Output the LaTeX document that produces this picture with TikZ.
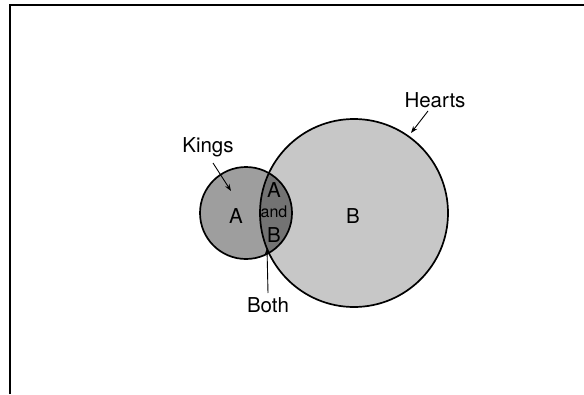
\documentclass[tikz,border=0pt]{standalone}
\usepackage{fontspec}
\setmainfont{TeX Gyre Heros}
\usetikzlibrary{arrows.meta}
\begin{document}
\begin{tikzpicture}[x=1pt,y=-1pt,
  ring/.style={draw=black, line width=1.7pt},
  afill/.style={fill=black!38},
  bfill/.style={fill=black!22},
  abfill/.style={fill=black!55},
  lbl/.style={font=\fontsize{20.5}{21}\selectfont, inner sep=0pt},
  small/.style={font=\fontsize{16}{17}\selectfont, inner sep=0pt},
  arr/.style={draw=black, line width=0.9pt, -{Stealth[length=7pt,width=5pt]}},
  frame/.style={draw=black, line width=1.6pt}]
\useasboundingbox (0,0) rectangle (584,394);
% frame
\coordinate (f1) at (10,394);
\coordinate (f2) at (10,5);
\coordinate (f3) at (584,5);
\draw[frame] (f1) -- (f2) -- (f3);
% circle fills
\coordinate (ca) at (246,213);
\coordinate (cb) at (354,213);
\fill[afill] (ca) circle[radius=46];
\fill[bfill] (cb) circle[radius=94];
\begin{scope}
  \clip (ca) circle[radius=46];
  \fill[abfill] (cb) circle[radius=94];
\end{scope}
% circles
\node[ring, circle, minimum size=92pt, inner sep=0pt] (kings) at (ca) {};
\node[ring, circle, minimum size=188pt, inner sep=0pt] (hearts) at (cb) {};
% region labels
\node[lbl] (alab) at (236,216) {A};
\node[lbl] (blab) at (353,216) {B};
\node[lbl] (aba) at (274,190) {A};
\node[small] (aband) at (274,212) {and};
\node[lbl] (abb) at (274,235) {B};
% outside labels
\node[lbl] (kingslbl) at (208,147) {Kings};
\node[lbl] (heartslbl) at (435,100) {Hearts};
\node[lbl] (bothlbl) at (268,305) {Both};
% arrows
\coordinate (kingsfrom) at (213,163);
\coordinate (kingstip) at (231,191);
\coordinate (heartsfrom) at (428,111);
\coordinate (heartstip) at (411,133);
\coordinate (bothfrom) at (268,293);
\coordinate (bothtip) at (267,248);
\draw[arr] (kingsfrom) -- (kingstip);
\draw[arr] (heartsfrom) -- (heartstip);
\draw[arr] (bothfrom) -- (bothtip);
\end{tikzpicture}
\end{document}
